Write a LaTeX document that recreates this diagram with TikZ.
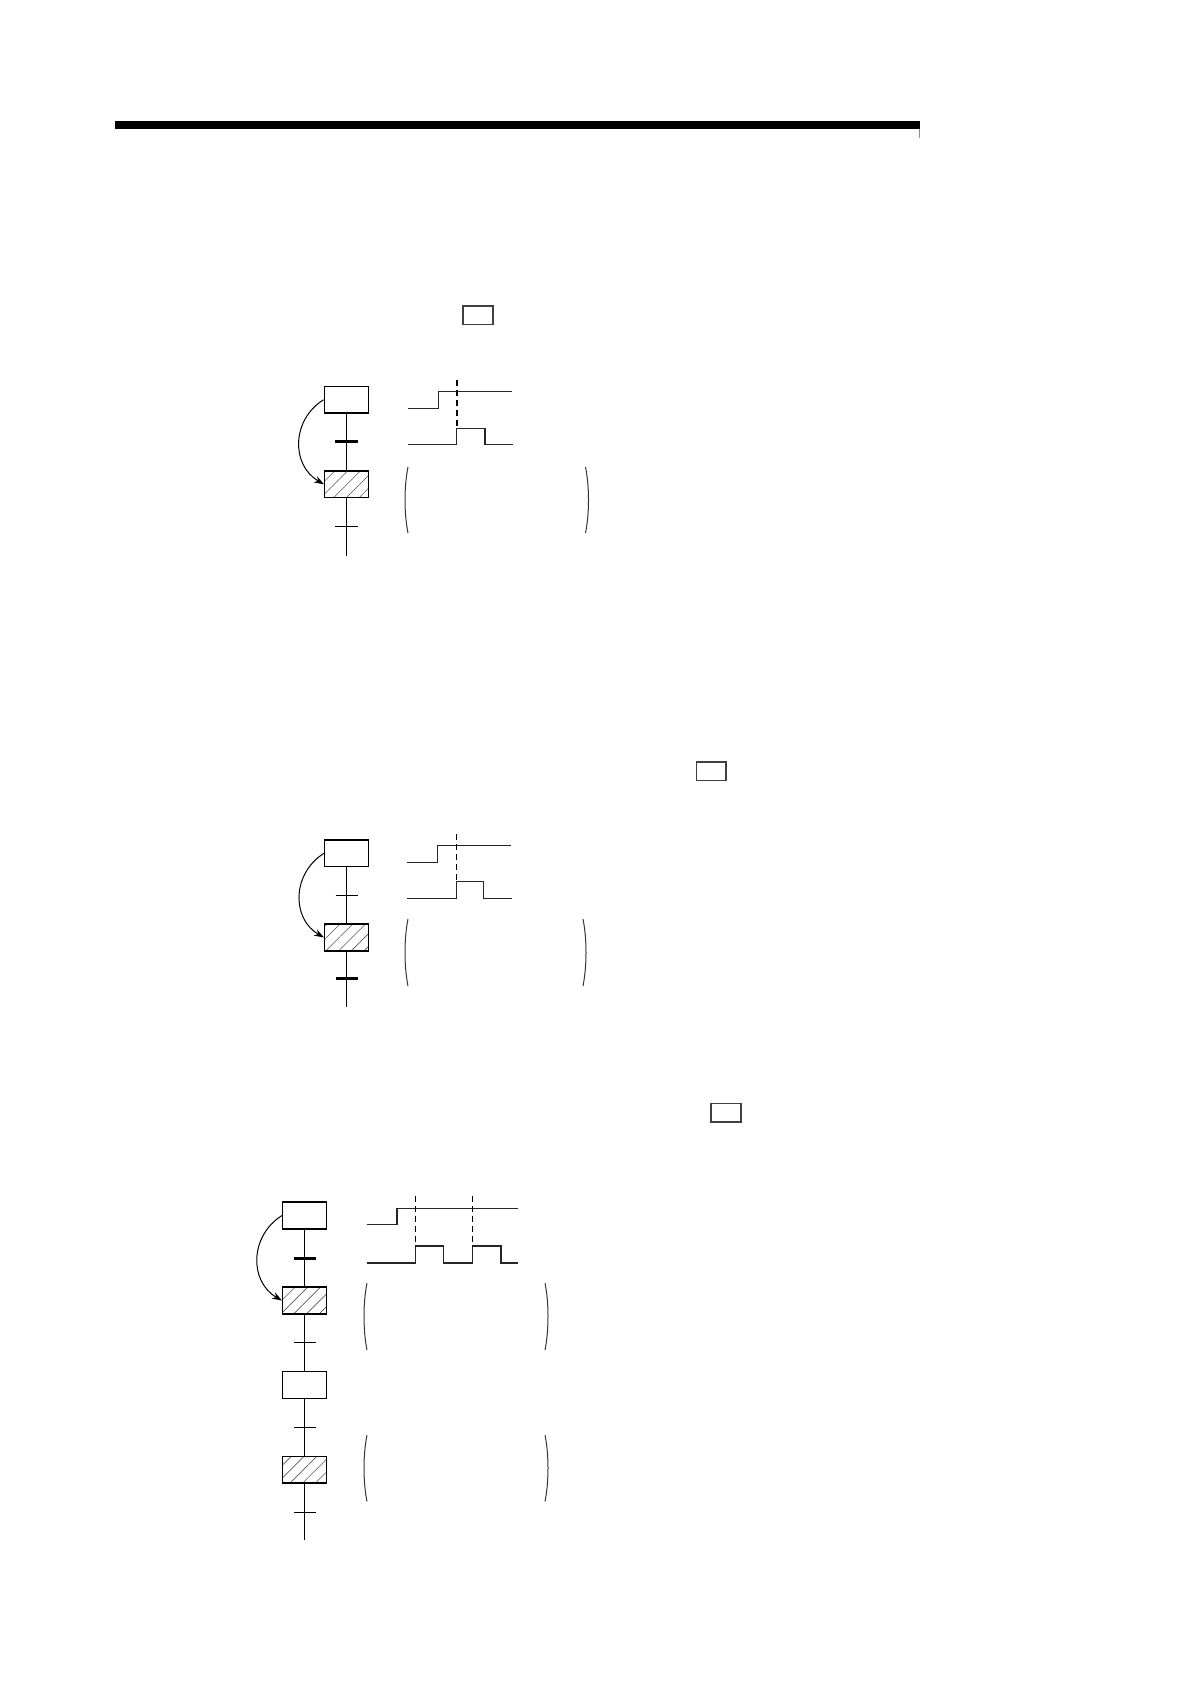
\documentclass[tikz,border=0pt]{standalone}
\usetikzlibrary{arrows.meta,patterns.meta}
\tikzset{
  stepbox/.style={draw, line width=0.7pt, minimum width=22pt, minimum height=13.4pt, inner sep=0pt},
  activebox/.style={stepbox, pattern={Lines[angle=45,distance=4.5pt,line width=0.3pt]}, pattern color=black!65},
  smallbox/.style={draw, black!75, line width=0.8pt, minimum width=14.8pt, minimum height=9.2pt, inner sep=0pt},
  link/.style={line width=0.5pt},
  thickbar/.style={line width=1.5pt},
  thinbar/.style={line width=0.5pt},
  signal/.style={line width=0.6pt, black!85},
  marker/.style={line width=0.6pt, dash pattern=on 3pt off 2pt},
  jump/.style={-{Stealth[length=5pt,width=3.5pt]}, line width=0.5pt},
  bracket/.style={line width=0.5pt, black!80}
}
\begin{document}
\begin{tikzpicture}[x=0.5pt, y=-0.5pt]
  \path[fill=white, use as bounding box] (0,0) rectangle (1190,1684);

  % Header rule
  \fill (115,121) rectangle (920,129);
  \draw[black!45, line width=0.4pt] (919.6,129) -- (919.6,138);

  % First diagram
  \node[smallbox] at (478,315.5) (ka) {};
  \node[stepbox] at (346.3,399.7) (sa) {};
  \node[activebox] at (346.3,484.3) (ha) {};
  \coordinate (ta1) at (346.3,442);
  \coordinate (ta2) at (346.3,526.7);
  \coordinate (ea) at (346.3,556);

  \draw[link] (sa) -- (ha);
  \draw[link] (ha) -- (ea);
  \draw[thickbar] ([xshift=-5.6pt]ta1) -- ([xshift=5.6pt]ta1);
  \draw[thinbar] ([xshift=-5.6pt]ta2) -- ([xshift=5.6pt]ta2);
  \draw[jump] (sa.west) to[out=212, in=150, looseness=1.15] (ha.west);

  \draw[signal] (407.7,408.3) -| (438.3,391.7) -- (512.3,391.7);
  \draw[signal] (407.7,444.7) -| (456.7,428.3) -| (485,444.7) -- (513.3,444.7);
  \draw[marker, line width=1.2pt] (456.7,380) -- (456.7,428.3);

  \draw[bracket] (408,467) .. controls (404,487) and (404,513) .. (408,533);
  \draw[bracket] (585.5,467) .. controls (589.5,487) and (589.5,513) .. (585.5,533);

  % Second diagram
  \node[smallbox] at (711.3,771.2) (kb) {};
  \node[stepbox] at (346.7,853.3) (sb) {};
  \node[activebox] at (346.7,937.5) (hb) {};
  \coordinate (tb1) at (346.7,895.3);
  \coordinate (tb2) at (346.7,978.7);
  \coordinate (eb) at (346.7,1007.3);

  \draw[link] (sb) -- (hb);
  \draw[link] (hb) -- (eb);
  \draw[thinbar] ([xshift=-5.6pt]tb1) -- ([xshift=5.6pt]tb1);
  \draw[thickbar] ([xshift=-5.6pt]tb2) -- ([xshift=5.6pt]tb2);
  \draw[jump] (sb.west) to[out=212, in=150, looseness=1.15] (hb.west);

  \draw[signal] (406.7,862.3) -| (437.7,845.7) -- (511,845.7);
  \draw[signal] (406.7,898.7) -| (456.3,881.7) -| (483.7,898.7) -- (511.7,898.7);
  \draw[marker] (456.3,834.3) -- (456.3,881.7);

  \draw[bracket] (408,919) .. controls (404,939) and (404,966) .. (408,986);
  \draw[bracket] (583,919) .. controls (587,939) and (587,966) .. (583,986);

  % Third diagram
  \node[smallbox] at (726,1112.8) (kc) {};
  \node[stepbox] at (304.7,1215.5) (sc) {};
  \node[activebox] at (304.7,1300.5) (hc) {};
  \node[stepbox] at (304.7,1384.8) (sd) {};
  \node[activebox] at (304.7,1469.7) (hd) {};
  \coordinate (tc1) at (304.7,1258);
  \coordinate (tc2) at (304.7,1342.3);
  \coordinate (tc3) at (304.7,1427.3);
  \coordinate (tc4) at (304.7,1512.3);
  \coordinate (ec) at (304.7,1540);

  \draw[link] (sc) -- (hc);
  \draw[link] (hc) -- (sd);
  \draw[link] (sd) -- (hd);
  \draw[link] (hd) -- (ec);
  \draw[thickbar] ([xshift=-5.6pt]tc1) -- ([xshift=5.6pt]tc1);
  \foreach \t in {tc2,tc3,tc4}
    \draw[thinbar] ([xshift=-5.6pt]\t) -- ([xshift=5.6pt]\t);
  \draw[jump] (sc.west) to[out=212, in=150, looseness=1.15] (hc.west);

  \draw[signal] (366.7,1224.7) -| (397,1208.3) -- (517.7,1208.3);
  \draw[signal] (366.7,1263) -| (415.3,1246) -| (443.7,1263) -| (472.3,1246) -| (501,1263) -- (517.7,1263);
  \foreach \x in {415.3,472.3}
    \draw[marker] (\x,1195.7) -- (\x,1246);

  \foreach \top/\bot in {1283/1350,1435/1501.5} {
    \draw[bracket] (367,\top) .. controls (363,\top+20) and (363,\bot-20) .. (367,\bot);
    \draw[bracket] (545,\top) .. controls (549,\top+20) and (549,\bot-20) .. (545,\bot);
  }
\end{tikzpicture}
\end{document}
